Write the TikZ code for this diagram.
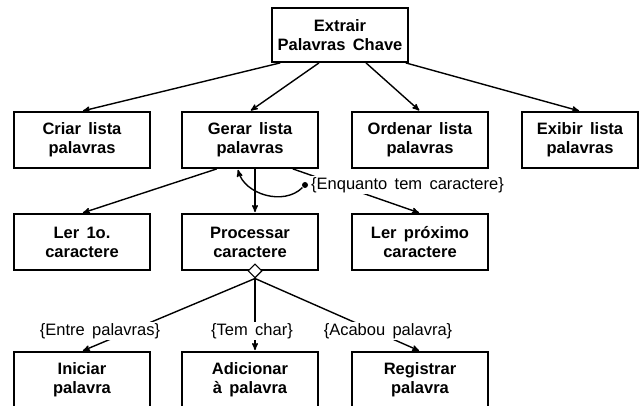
\documentclass[tikz,border=0pt]{standalone}
\usepackage{fontspec}
\setmainfont{Liberation Sans}[WordSpace=1.6]
\usepackage{tikz}
\usetikzlibrary{arrows}
\usetikzlibrary{positioning}
\usetikzlibrary{shapes.geometric}

\tikzset{
  proc/.style={shape=rectangle,draw=black,line width=1.8pt,minimum width=136pt,minimum height=56pt,inner sep=2pt,align=center,font=\fontsize{16.5}{19}\selectfont\bfseries},
  cond/.style={fill=white,inner sep=1.5pt,font=\fontsize{16.5}{19}\selectfont}
}

\begin{document}
\begin{tikzpicture}[->,>=stealth',shorten >=1pt,line width=1.4pt,x=1pt,y=-1pt]
        \useasboundingbox (0,0) rectangle (643,406);

            % Top node
            \node[proc,minimum height=54pt] (Extrair) at (340,35) {Extrair\\Palavras Chave};

            % First level
            \node[proc] (Criar) at (82,140) {Criar lista\\palavras};
            \node[proc] (Gerar) at (250,140) {Gerar lista\\palavras};
            \node[proc] (Ordenar) at (420,140) {Ordenar lista\\palavras};
            \node[proc,minimum width=116pt] (Exibir) at (580,140) {Exibir lista\\palavras};

            % Second level
            \node[proc] (LerPrim) at (82,242) {Ler 1o.\\caractere};
            \node[proc] (Processar) at (250,242) {Processar\\caractere};
            \node[proc] (LerProx) at (420,242) {Ler próximo\\caractere};

            % Third level
            \node[proc] (Iniciar) at (82,380) {Iniciar\\palavra};
            \node[proc] (Adicionar) at (250,380) {Adicionar\\à palavra};
            \node[proc] (Registrar) at (420,380) {Registrar\\palavra};

            % Selection mark
            \node[shape=diamond,draw=black,fill=white,line width=1.2pt,inner sep=0pt,minimum size=14pt] (Sel) at ([xshift=5pt]Processar.south) {};

            % Arrows from the top node
            \path (Extrair.-155) edge (Criar.north);
            \path (Extrair.-127) edge (Gerar.north);
            \path (Extrair.-47) edge (Ordenar.north);
            \path (Extrair.-23) edge (Exibir.north);

            % Arrows from Gerar
            \path (Gerar.-139) edge (LerPrim.north);
            \path ([xshift=5pt]Gerar.south) edge ([xshift=5pt]Processar.north);
            \path (Gerar.-34) edge (LerProx.north);

            % Arrows from the selection
            \path (Sel.south) edge (Iniciar.north);
            \path (Sel.south) edge ([xshift=5pt]Adicionar.north);
            \path (Sel.south) edge (Registrar.north);

            % Conditions
            \node[cond,anchor=west] (Enquanto) at (309,185) {\{Enquanto tem caractere\}};
            \node[cond] (Entre) at (100,331) {\{Entre palavras\}};
            \node[cond] (TemChar) at (252,331) {\{Tem char\}};
            \node[cond] (Acabou) at (388,331) {\{Acabou palavra\}};

            % Iteration loop
            \node[shape=circle,fill=black,inner sep=0pt,minimum size=6pt] (Dot) at ([xshift=-4pt]Enquanto.west) {};
            \draw (Dot) to[out=-135,in=-75] (Gerar.-113);

        \end{tikzpicture}
\end{document}
